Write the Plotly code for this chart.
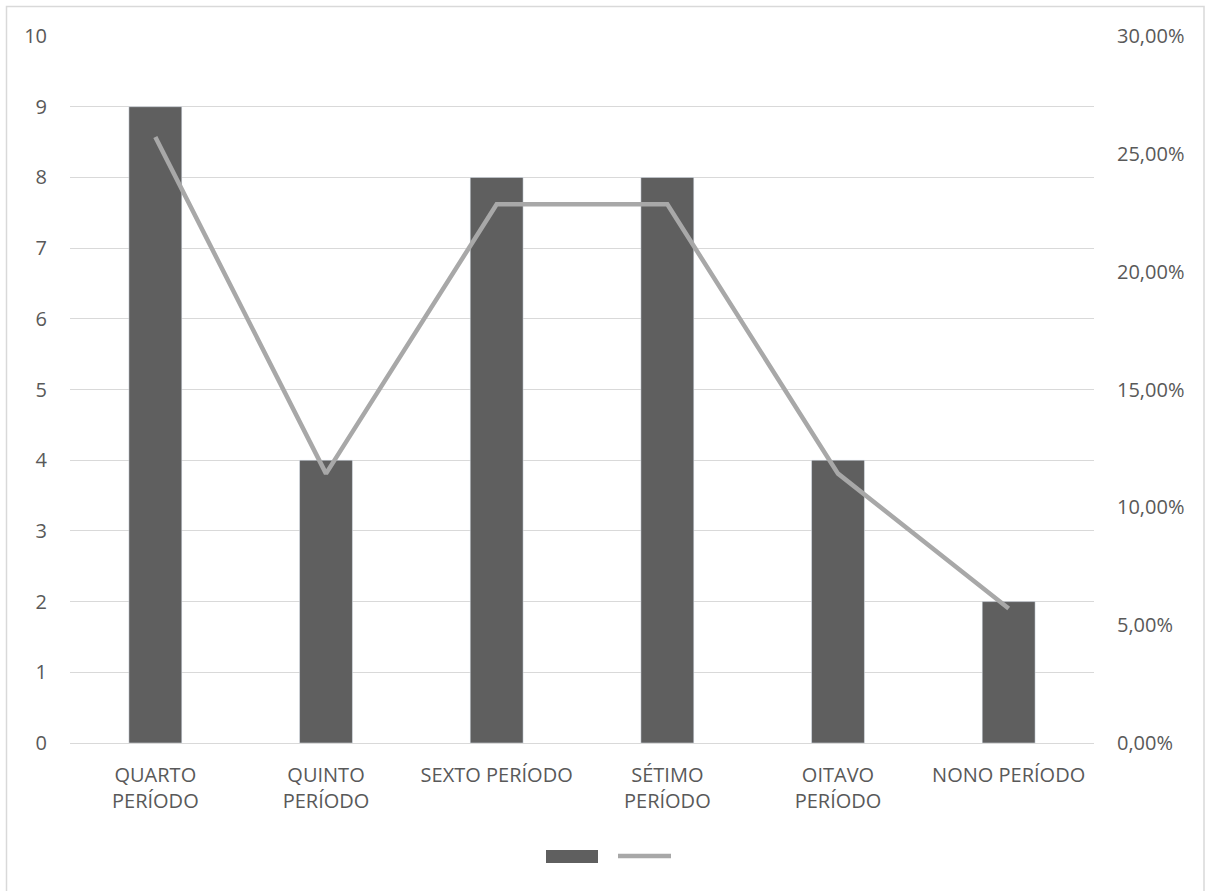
import plotly.graph_objects as go

categories = ["QUARTO<br>PERÍODO", "QUINTO<br>PERÍODO", "SEXTO PERÍODO",
              "SÉTIMO<br>PERÍODO", "OITAVO<br>PERÍODO", "NONO PERÍODO"]
counts = [9, 4, 8, 8, 4, 2]
percents = [25.71, 11.43, 22.86, 22.86, 11.43, 5.71]

left_ticks = list(range(0, 11))
right_ticks = [0, 5, 10, 15, 20, 25, 30]
right_labels = ["0,00%", "5,00%", "10,00%", "15,00%", "20,00%", "25,00%", "30,00%"]

bar_color = "#5f5f5f"
line_color = "#a8a8a8"
text_color = "#595959"
grid_color = "#d9d9d9"
font_family = "Open Sans, Noto Sans, sans-serif"
fsize = 20

fig = go.Figure()
fig.add_trace(go.Bar(x=categories, y=counts, marker_color=bar_color,
                     width=0.31, showlegend=False, yaxis="y"))
fig.add_trace(go.Scatter(x=categories, y=percents, mode="lines",
                         line=dict(color=line_color, width=4.5),
                         showlegend=False, yaxis="y2"))

W, H = 1205, 891
ml, mr, mt, mb = 70, 111, 36, 148
pw, ph = W - ml - mr, H - mt - mb


def px_x(x):
    return (x - ml) / pw


def px_y(y):
    return (H - mb - y) / ph


shapes = [
    # outer chart border
    dict(type="rect", xref="paper", yref="paper",
         x0=px_x(6.5), x1=px_x(1204), y0=px_y(900), y1=px_y(6.5),
         line=dict(color="#d9d9d9", width=1.5), fillcolor="rgba(0,0,0,0)",
         layer="below"),
    # legend swatches
    dict(type="rect", xref="paper", yref="paper",
         x0=px_x(546), x1=px_x(598), y0=px_y(863), y1=px_y(850),
         line=dict(width=0), fillcolor=bar_color),
    dict(type="line", xref="paper", yref="paper",
         x0=px_x(618), x1=px_x(671), y0=px_y(856), y1=px_y(856),
         line=dict(color=line_color, width=4.5)),
]

fig.update_layout(
    width=W, height=H,
    margin=dict(l=ml, r=mr, t=mt, b=mb, autoexpand=False),
    paper_bgcolor="white", plot_bgcolor="white",
    font=dict(family=font_family, size=fsize, color=text_color),
    shapes=shapes,
    xaxis=dict(showgrid=False, showline=True, linecolor=grid_color, linewidth=1,
               ticks="", tickfont=dict(size=fsize, color=text_color), ticklabelstandoff=14,
               zeroline=False),
    yaxis=dict(range=[0, 10], tickvals=left_ticks, showgrid=True,
               gridcolor=grid_color, gridwidth=1, zeroline=False, showline=False,
               ticks="", ticklabelstandoff=22, tickfont=dict(size=fsize, color=text_color)),
    yaxis2=dict(range=[0, 30], tickvals=right_ticks, ticktext=right_labels,
                overlaying="y", side="right", showgrid=False, zeroline=False,
                showline=False, ticks="", ticklabelstandoff=22,
                tickfont=dict(size=fsize, color=text_color)),
)

fig.write_html("out.html")
